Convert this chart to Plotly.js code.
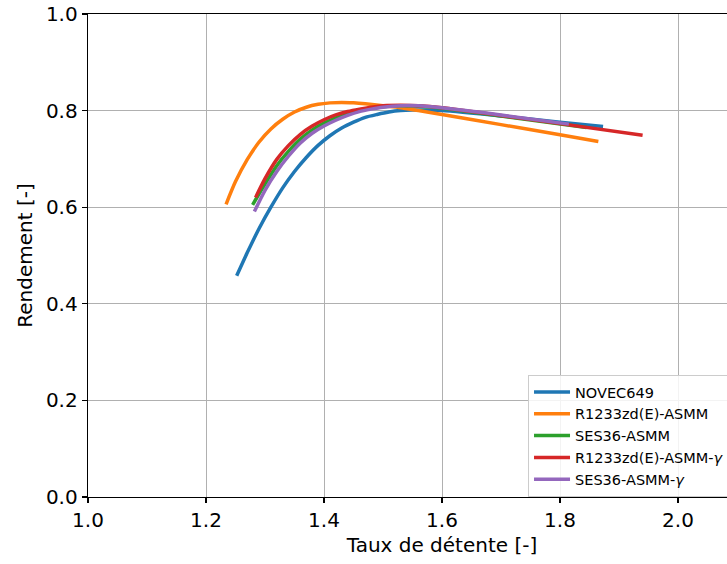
<!DOCTYPE html>
<html>
<head>
<meta charset="utf-8">
<script src="https://cdn.plot.ly/plotly-3.0.1.min.js"></script>
<style>
html, body { margin:0; padding:0; overflow:hidden; background:#fff; }
#chart { width:800px; height:564px; }
</style>
</head>
<body>
<div id="chart"></div>
<script>
// Data
const seriesNames = ["NOVEC649", "R1233zd(E)-ASMM", "SES36-ASMM", "R1233zd(E)-ASMM-<i>γ</i>", "SES36-ASMM-<i>γ</i>"];
const seriesColors = ["#1f77b4", "#ff7f0e", "#2ca02c", "#d62728", "#9467bd"];

const novecX = [1.252, 1.27, 1.29, 1.31, 1.33, 1.35, 1.37, 1.39, 1.41, 1.43, 1.45, 1.47, 1.49, 1.51, 1.53, 1.55, 1.57, 1.60, 1.70, 1.80, 1.873];
const novecY = [0.458, 0.506, 0.556, 0.600, 0.640, 0.674, 0.703, 0.728, 0.748, 0.764, 0.776, 0.786, 0.792, 0.797, 0.800, 0.801, 0.801, 0.800, 0.789, 0.776, 0.767];

const r1233X = [1.234, 1.25, 1.27, 1.29, 1.31, 1.33, 1.35, 1.37, 1.39, 1.41, 1.43, 1.45, 1.47, 1.50, 1.53, 1.56, 1.60, 1.70, 1.80, 1.865];
const r1233Y = [0.606, 0.653, 0.699, 0.735, 0.762, 0.782, 0.797, 0.807, 0.813, 0.816, 0.817, 0.816, 0.814, 0.810, 0.806, 0.800, 0.792, 0.771, 0.750, 0.736];

const ses36X = [1.279, 1.30, 1.32, 1.34, 1.36, 1.38, 1.40, 1.42, 1.44, 1.46, 1.48, 1.50, 1.53, 1.56, 1.60, 1.70, 1.845];
const ses36Y = [0.605, 0.648, 0.686, 0.716, 0.741, 0.760, 0.774, 0.785, 0.794, 0.800, 0.805, 0.808, 0.810, 0.809, 0.805, 0.789, 0.765];

const r1233gX = [1.284, 1.30, 1.32, 1.34, 1.36, 1.38, 1.40, 1.42, 1.44, 1.46, 1.48, 1.50, 1.53, 1.56, 1.60, 1.70, 1.80, 1.94];
const r1233gY = [0.620, 0.659, 0.699, 0.728, 0.751, 0.768, 0.781, 0.791, 0.798, 0.803, 0.807, 0.810, 0.811, 0.810, 0.806, 0.790, 0.773, 0.749];

const ses36gX = [1.282, 1.30, 1.32, 1.34, 1.36, 1.38, 1.40, 1.42, 1.44, 1.46, 1.48, 1.50, 1.53, 1.56, 1.60, 1.70, 1.815];
const ses36gY = [0.591, 0.635, 0.674, 0.706, 0.733, 0.753, 0.768, 0.780, 0.790, 0.798, 0.803, 0.807, 0.810, 0.810, 0.806, 0.791, 0.772];

const xTicks = [1.0, 1.2, 1.4, 1.6, 1.8, 2.0];
const yTicks = [0.0, 0.2, 0.4, 0.6, 0.8, 1.0];

const xs = [novecX, r1233X, ses36X, r1233gX, ses36gX];
const ys = [novecY, r1233Y, ses36Y, r1233gY, ses36gY];

const traces = seriesNames.map((n, i) => ({
  x: xs[i], y: ys[i], name: n, type: "scatter", mode: "lines",
  line: { color: seriesColors[i], width: 3.5, shape: "spline", smoothing: 0.7 },
  hoverinfo: "skip"
}));

const font = { family: "DejaVu Sans", size: 20, color: "#000" };
const axisCommon = {
  showgrid: true, gridcolor: "#b0b0b0", gridwidth: 1,
  showline: true, linecolor: "#000", linewidth: 1.3, mirror: true,
  ticks: "outside", ticklen: 5, tickwidth: 1.2, tickcolor: "#000",
  zeroline: false, tickfont: font, automargin: false
};

const layout = {
  width: 800, height: 564,
  margin: { l: 88, r: 4, t: 14, b: 67 },
  paper_bgcolor: "#fff", plot_bgcolor: "#fff",
  font: font,
  showlegend: true,
  xaxis: Object.assign({}, axisCommon, {
    range: [1.0, 2.2], tickvals: xTicks, ticktext: xTicks.map(v => v.toFixed(1)),
    title: { text: "Taux de détente [-]", font: font, standoff: 6 }
  }),
  yaxis: Object.assign({}, axisCommon, {
    range: [0.0, 1.0], tickvals: yTicks, ticktext: yTicks.map(v => v.toFixed(1)),
    title: { text: "Rendement [-]", font: font, standoff: 8 }
  }),
  legend: {
    x: 0.6215, y: 0.2526, xanchor: "left", yanchor: "top",
    bgcolor: "rgba(255,255,255,0.85)", bordercolor: "#cccccc", borderwidth: 1,
    font: { family: "DejaVu Sans", size: 14.5, color: "#000" },
    itemwidth: 36,
    tracegroupgap: 0
  }
};

Plotly.newPlot("chart", traces, layout, { displayModeBar: false, staticPlot: true });
</script>
</body>
</html>
